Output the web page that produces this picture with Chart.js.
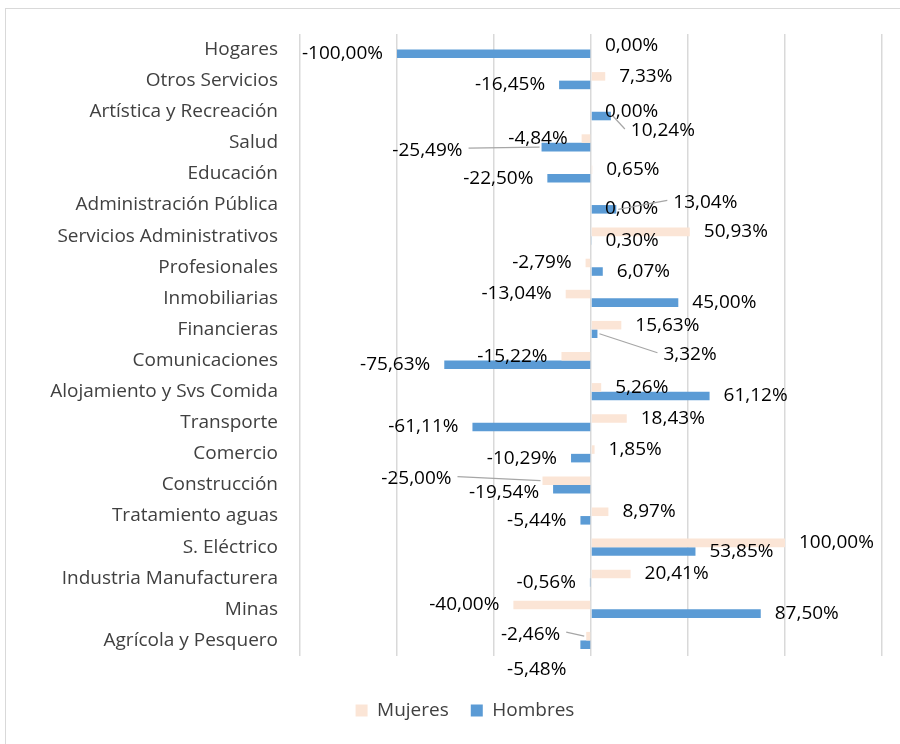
<!DOCTYPE html>
<html>
<head>
<meta charset="utf-8">
<script src="https://cdn.jsdelivr.net/npm/chart.js@4.4.0/dist/chart.umd.min.js"></script>
<style>
  html, body { margin: 0; padding: 0; background: #fff; }
  #frame { position: absolute; left: 5px; top: 8px; width: 900px; height: 740px; border: 1px solid #d9d9d9; }
  #wrap { position: absolute; left: 0; top: 0; width: 900px; height: 744px; }
</style>
</head>
<body>
<div id="frame"></div>
<div id="wrap"><canvas id="myChart" width="900" height="744"></canvas></div>
<script>
const categories = [
  "Hogares", "Otros Servicios", "Artística y Recreación", "Salud", "Educación",
  "Administración Pública", "Servicios Administrativos", "Profesionales", "Inmobiliarias",
  "Financieras", "Comunicaciones", "Alojamiento y Svs Comida", "Transporte", "Comercio",
  "Construcción", "Tratamiento aguas", "S. Eléctrico", "Industria Manufacturera", "Minas",
  "Agrícola y Pesquero"
];
const mujeres = [0, 7.33, 0, -4.84, 0.65, 0, 50.93, -2.79, -13.04, 15.63, -15.22, 5.26,
  18.43, 1.85, -25.0, 8.97, 100.0, 20.41, -40.0, -2.46];
const hombres = [-100.0, -16.45, 10.24, -25.49, -22.5, 13.04, 0.3, 6.07, 45.0, 3.32, -75.63,
  61.12, -61.11, -10.29, -19.54, -5.44, 53.85, -0.56, 87.5, -5.48];
const xTicks = [-150, -100, -50, 0, 50, 100, 150];

const FONT = '"Open Sans", "Liberation Sans", sans-serif';

// Labels that were dragged away from their bars in the original (some with a leader line)
const labelNudges = {
  "Artística y Recreación|0": { dx: 0, dy: 4 },
  "Artística y Recreación|1": { dx: 6, dy: 15, leader: true },
  "Salud|1": { dx: -65, dy: 3, leader: true },
  "Administración Pública|0": { dx: 0, dy: 8 },
  "Administración Pública|1": { dx: 43, dy: -7, leader: true },
  "Financieras|1": { dx: 52, dy: 21, leader: true },
  "Construcción|0": { dx: -77, dy: -2, leader: true },
  "Construcción|1": { dx: 0, dy: 3 },
  "Agrícola y Pesquero|0": { dx: -12, dy: -2, leader: true },
  "Agrícola y Pesquero|1": { dx: 0, dy: 25 },
};

// Draw value labels at the outer end of each bar
const valueLabels = {
  id: "valueLabels",
  afterDatasetsDraw(chart) {
    const ctx = chart.ctx;
    ctx.save();
    ctx.font = "19px " + FONT;
    ctx.textBaseline = "middle";
    chart.data.datasets.forEach((ds, i) => {
      chart.getDatasetMeta(i).data.forEach((bar, j) => {
        const v = ds.data[j];
        const txt = v.toFixed(2).replace(".", ",") + "%";
        const neg = v < 0;
        const n = labelNudges[chart.data.labels[j] + "|" + i] || { dx: 0, dy: 0 };
        const x = bar.x + (neg ? -14 : 14) + n.dx;
        const y = bar.y + n.dy;
        if (n.leader) {
          ctx.strokeStyle = "#a6a6a6";
          ctx.lineWidth = 1.2;
          ctx.beginPath();
          ctx.moveTo(x + (neg ? 6 : -6), y - 2);
          ctx.lineTo(bar.x + (neg ? -2 : 2), bar.y);
          ctx.stroke();
        }
        ctx.fillStyle = "#000";
        ctx.textAlign = neg ? "right" : "left";
        ctx.fillText(txt, x, y);
      });
    });
    ctx.restore();
  },
};

const ctx = document.getElementById("myChart");

new Chart(ctx, {
  type: "bar",
  data: {
    labels: categories,
    datasets: [
      { label: "Mujeres", data: mujeres, backgroundColor: "#fbe5d6" },
      { label: "Hombres", data: hombres, backgroundColor: "#5b9bd5" },
    ],
  },
  options: {
    indexAxis: "y",
    responsive: false,
    animation: false,
    categoryPercentage: 0.55,
    barPercentage: 1,
    layout: { padding: { left: 48, right: 18, top: 34, bottom: 14 } },
    scales: {
      x: {
        min: xTicks[0],
        max: xTicks[xTicks.length - 1],
        afterBuildTicks: (scale) => {
          scale.ticks = xTicks.map((v) => ({ value: v }));
        },
        afterFit: (scale) => {
          scale.height = 23;
        },
        ticks: { display: false },
        grid: { color: "#d9d9d9", lineWidth: 1.5, drawTicks: false },
        border: { display: false },
      },
      y: {
        afterFit: (scale) => {
          scale.width = 252;
        },
        grid: { display: false },
        border: { display: false },
        ticks: {
          padding: 14,
          color: "#404040",
          font: { family: FONT, size: 19 },
        },
      },
    },
    plugins: {
      tooltip: { enabled: false },
      legend: {
        position: "bottom",
        labels: {
          boxWidth: 12,
          boxHeight: 12,
          padding: 22,
          color: "#404040",
          font: { family: FONT, size: 19 },
        },
      },
    },
  },
  plugins: [valueLabels],
});
</script>
</body>
</html>
